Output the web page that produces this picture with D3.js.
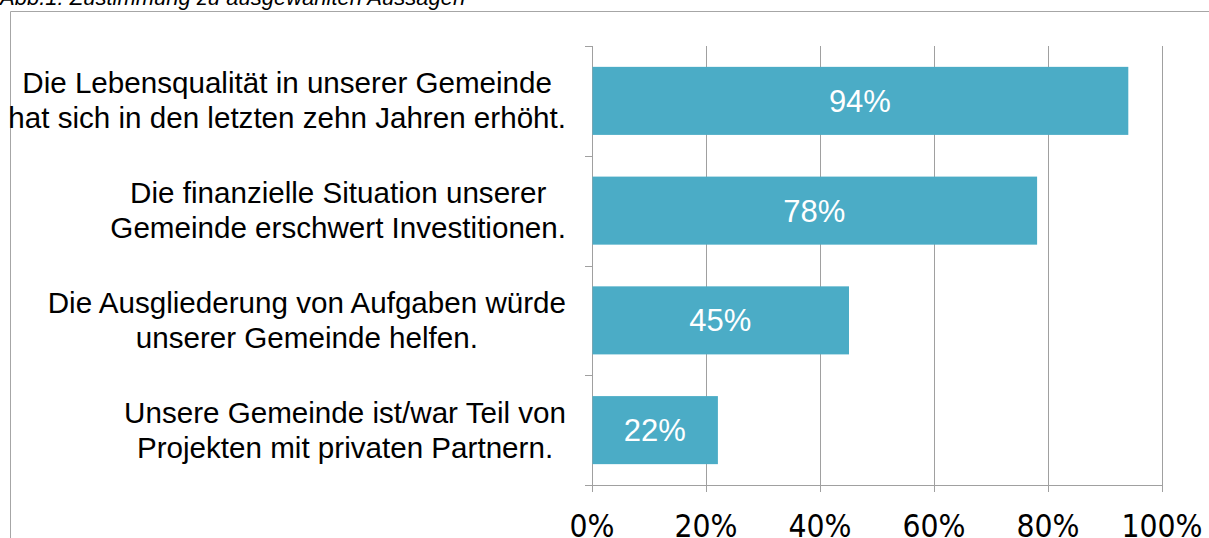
<!DOCTYPE html>
<html><head><meta charset="utf-8">
<script src="https://cdn.jsdelivr.net/npm/d3@7"></script>
<style>html,body{margin:0;padding:0;background:#fff;overflow:hidden}</style>
</head><body>
<svg id="c" width="1209" height="538"></svg>
<script>
const categories = [
  ["Die Lebensqualität in unserer Gemeinde", "hat sich in den letzten zehn Jahren erhöht."],
  ["Die finanzielle Situation unserer", "Gemeinde erschwert Investitionen."],
  ["Die Ausgliederung von Aufgaben würde", "unserer Gemeinde helfen."],
  ["Unsere Gemeinde ist/war Teil von", "Projekten mit privaten Partnern."]
];
const values = [0.94, 0.78, 0.45, 0.22];
const tickValues = [0, 0.2, 0.4, 0.6, 0.8, 1.0];
const title = "Abb.1: Zustimmung zu ausgewählten Aussagen";

const svg = d3.select("#c");
const grey = "#a0a0a0";
const barColor = "#4bacc6";

// frame
svg.append("path").attr("d", "M10.5,538 L10.5,11.5 L1209,11.5")
  .attr("fill", "none").attr("stroke", "#a6a6a6").attr("stroke-width", 1);

svg.append("text").attr("x", 0).attr("y", 5)
  .attr("font-family", "Liberation Sans, Arial, sans-serif").attr("font-style", "italic")
  .attr("font-size", 22).attr("fill", "#000").text(title);

const x = d3.scaleLinear().domain([0, 1]).range([592, 1162]);
const y = d3.scaleBand().domain(d3.range(categories.length)).range([46, 485])
  .paddingInner(0.38).paddingOuter(0.19);

// gridlines
svg.append("g").selectAll("line").data(tickValues).join("line")
  .attr("x1", d => Math.round(x(d)) + 0.5).attr("x2", d => Math.round(x(d)) + 0.5)
  .attr("y1", 46).attr("y2", 492).attr("stroke", grey).attr("stroke-width", 1);

// x-axis line
svg.append("line").attr("x1", 585).attr("x2", Math.round(x(1)) + 1)
  .attr("y1", 485.5).attr("y2", 485.5).attr("stroke", grey);

// y-axis ticks at band boundaries
const bounds = d3.range(categories.length + 1).map(i => 46 + i * y.step());
svg.append("g").selectAll("line").data(bounds).join("line")
  .attr("x1", 585).attr("x2", 592).attr("y1", d => Math.round(d) + 0.5).attr("y2", d => Math.round(d) + 0.5)
  .attr("stroke", grey);

// bars
svg.append("g").selectAll("rect").data(values).join("rect")
  .attr("x", x(0) + 0.5).attr("y", (d, i) => y(i))
  .attr("width", d => x(d) - x(0)).attr("height", y.bandwidth())
  .attr("fill", barColor);

// bar labels
svg.append("g").selectAll("text").data(values).join("text")
  .attr("x", d => (x(0) + x(d)) / 2).attr("y", (d, i) => y(i) + y.bandwidth() / 2 + 11)
  .attr("text-anchor", "middle").attr("font-family", "Liberation Sans, Arial, sans-serif")
  .attr("font-size", 31).attr("fill", "#fff").text(d => Math.round(d * 100) + "%");

// category labels
const lg = svg.append("g").attr("font-family", "Liberation Sans, Arial, sans-serif")
  .attr("font-size", 29.6).attr("fill", "#000");
categories.forEach((lines, i) => {
  const cy = y(i) + y.bandwidth() / 2;
  const g = lg.append("g");
  const ts = lines.map((l, j) => g.append("text")
    .attr("y", cy + (j - (lines.length - 1) / 2) * 35 + 10)
    .attr("text-anchor", "middle").text(l));
  const maxW = d3.max(ts, t => t.node().getComputedTextLength());
  ts.forEach(t => t.attr("x", 566 - maxW / 2));
});

// tick labels
svg.append("g").selectAll("text").data(tickValues).join("text")
  .attr("x", d => x(d)).attr("y", 536.5)
  .attr("text-anchor", "middle").attr("font-family", "DejaVu Sans Condensed, DejaVu Sans, sans-serif")
  .attr("font-stretch", "condensed")
  .attr("font-size", 31.5).attr("fill", "#000").text(d => Math.round(d * 100) + "%");
</script>
</body></html>
